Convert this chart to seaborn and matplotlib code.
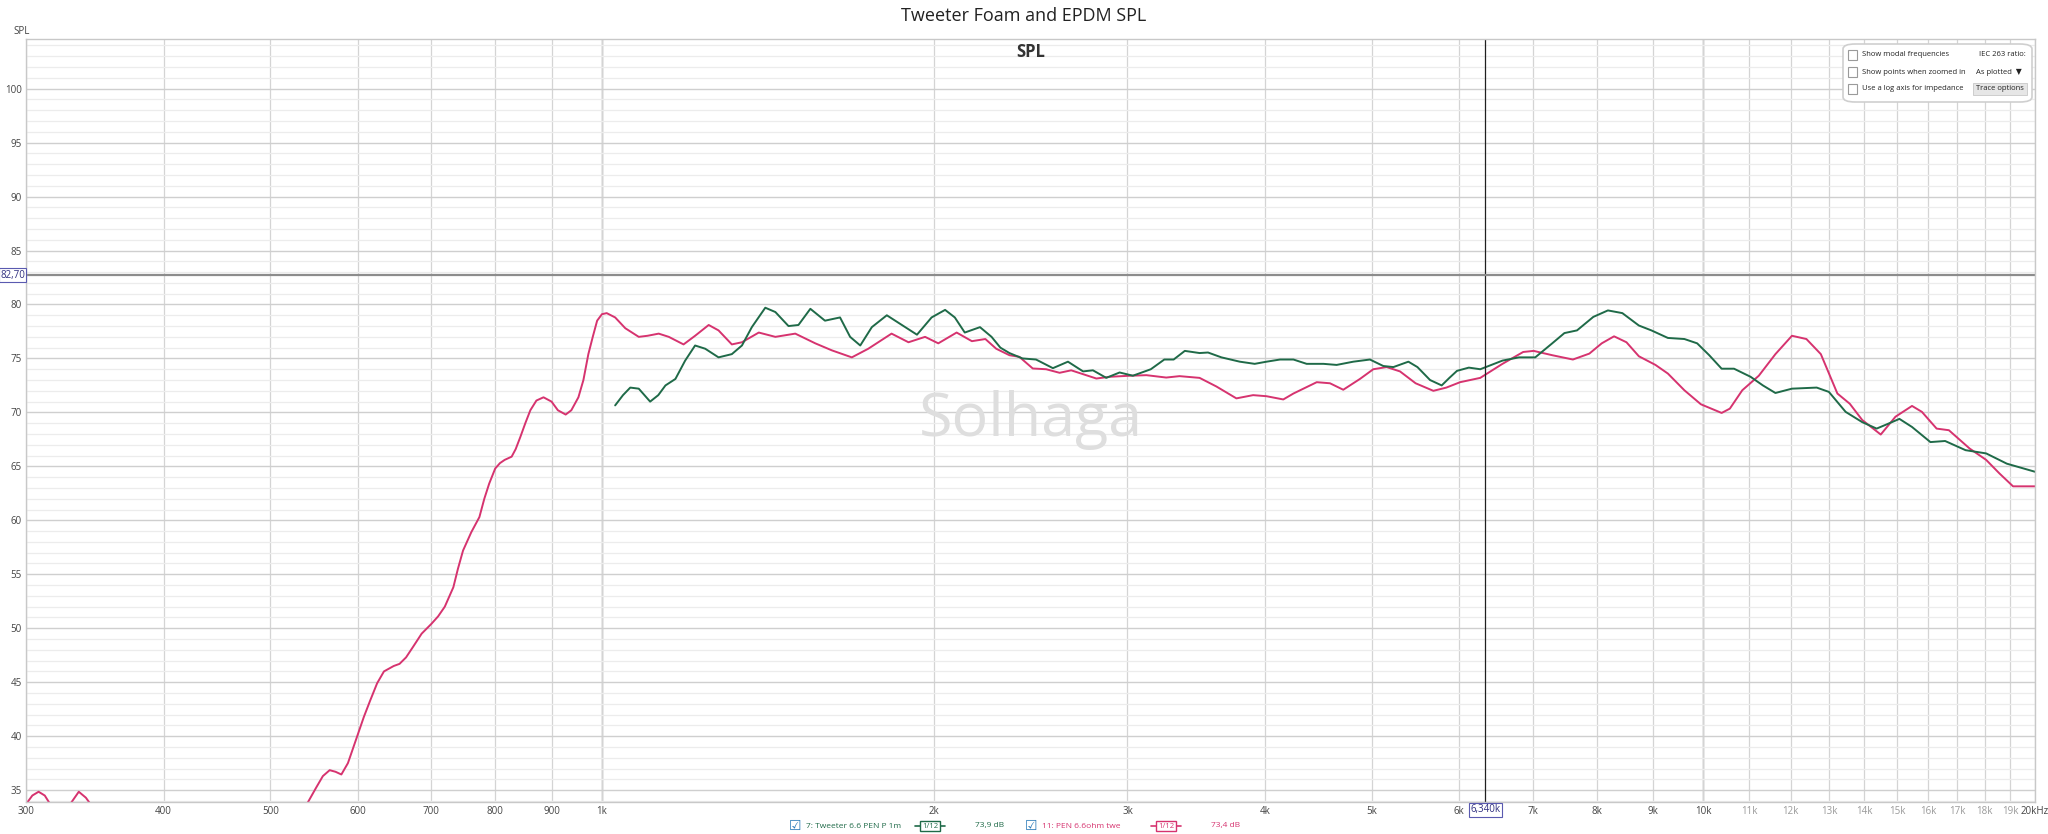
import matplotlib
matplotlib.use("Agg")
import matplotlib.pyplot as plt
import seaborn as sns
import pandas as pd
from matplotlib.patches import FancyBboxPatch, Rectangle
from matplotlib.lines import Line2D
from matplotlib.ticker import MultipleLocator, NullLocator

# Trace 11: PEN 6.6ohm twe (pink)
pink_freq = [300, 304, 308, 312, 316, 322, 329, 335, 340, 345, 360, 400, 480, 530, 541, 550,
             558, 566, 573, 580, 588, 600, 608, 616, 625, 634, 647, 655, 664, 674, 686, 700,
             710, 720, 733, 740, 748, 761, 774, 782, 790, 800, 808, 816, 828, 835, 843, 852,
             861, 872, 885, 900, 912, 927, 938, 952, 962, 972, 981, 990, 1000, 1010, 1028,
             1050, 1080, 1100, 1126, 1150, 1186, 1215, 1250, 1276, 1312, 1340, 1388, 1437,
             1498, 1562, 1617, 1686, 1745, 1832, 1898, 1965, 2020, 2099, 2167, 2229, 2280,
             2344, 2393, 2461, 2531, 2603, 2667, 2734, 2811, 2890, 3003, 3121, 3253, 3345,
             3488, 3613, 3767, 3901, 4012, 4155, 4244, 4456, 4581, 4710, 4877, 5015, 5157,
             5303, 5479, 5686, 5843, 6013, 6272, 6570, 6861, 7013, 7290, 7612, 7879, 8085,
             8296, 8514, 8738, 9046, 9284, 9610, 9948, 10388, 10568, 10846, 11228, 11624,
             12033, 12402, 12782, 13232, 13580, 13936, 14487, 14940, 15466, 15789, 16282,
             16705, 17447, 18059, 18565, 19103, 20000]
pink_spl = [33.7, 34.5, 34.85, 34.5, 33.6, 32.8, 33.7, 34.85, 34.3, 33.4, 31.0, 28.0, 30.0, 32.5,
            33.9, 35.2, 36.3, 36.85, 36.7, 36.45, 37.5, 40.1, 41.8, 43.3, 44.9, 46.0, 46.5,
            46.7, 47.3, 48.3, 49.5, 50.4, 51.1, 52.0, 53.8, 55.5, 57.2, 58.9, 60.3, 62.0,
            63.4, 64.8, 65.3, 65.6, 65.9, 66.6, 67.7, 69.0, 70.2, 71.1, 71.4, 71.0, 70.2,
            69.8, 70.2, 71.4, 73.0, 75.4, 77.0, 78.5, 79.1, 79.2, 78.8, 77.8, 77.0, 77.1,
            77.3, 77.0, 76.3, 77.1, 78.1, 77.6, 76.3, 76.5, 77.4, 77.0, 77.3, 76.4, 75.75,
            75.1, 75.9, 77.3, 76.5, 77.0, 76.4, 77.4, 76.6, 76.8, 75.9, 75.3, 75.15, 74.07,
            74.0, 73.67, 73.9, 73.54, 73.14, 73.3, 73.39, 73.45, 73.23, 73.36, 73.2, 72.4,
            71.3, 71.6, 71.5, 71.2, 71.75, 72.8, 72.7, 72.1, 73.1, 74.0, 74.2, 73.8, 72.7,
            72.0, 72.3, 72.8, 73.2, 74.5, 75.6, 75.7, 75.3, 74.9, 75.45, 76.4, 77.05, 76.5,
            75.2, 74.4, 73.6, 72.05, 70.75, 69.95, 70.35, 72.05, 73.4, 75.4, 77.1, 76.8,
            75.4, 71.75, 70.8, 69.3, 67.95, 69.6, 70.6, 70.05, 68.5, 68.35, 66.65, 65.6,
            64.35, 63.15, 63.15]

# Trace 7: Tweeter 6.6 PEN P 1m (green)
green_freq = [1028, 1045, 1061, 1080, 1106, 1125, 1142, 1166, 1190, 1215, 1241, 1276, 1312,
              1340, 1368, 1407, 1437, 1477, 1508, 1546, 1594, 1645, 1680, 1716, 1758, 1814,
              1872, 1932, 1992, 2049, 2091, 2135, 2204, 2258, 2300, 2344, 2409, 2478, 2567,
              2649, 2734, 2791, 2870, 2951, 3034, 3150, 3240, 3304, 3382, 3488, 3550, 3651,
              3794, 3914, 4012, 4127, 4244, 4363, 4519, 4645, 4810, 4980, 5121, 5230, 5397,
              5500, 5647, 5786, 5880, 5974, 6124, 6272, 6570, 6800, 7036, 7290, 7478, 7678,
              7944, 8190, 8441, 8738, 8969, 9284, 9610, 9870, 10122, 10388, 10660, 11036,
              11324, 11624, 12033, 12672, 12999, 13462, 13936, 14363, 14675, 15064, 15466,
              16072, 16574, 17298, 18059, 18856, 20000]
green_spl = [70.65, 71.6, 72.3, 72.2, 71.0, 71.6, 72.5, 73.1, 74.8, 76.2, 75.9, 75.1, 75.4,
             76.2, 77.9, 79.7, 79.3, 78.0, 78.1, 79.6, 78.5, 78.8, 77.0, 76.2, 77.9, 79.0,
             78.1, 77.2, 78.8, 79.5, 78.8, 77.4, 77.9, 77.0, 76.0, 75.5, 75.0, 74.9, 74.1,
             74.7, 73.8, 73.9, 73.2, 73.7, 73.4, 74.0, 74.9, 74.9, 75.7, 75.5, 75.55, 75.1,
             74.7, 74.5, 74.7, 74.9, 74.9, 74.5, 74.5, 74.4, 74.7, 74.9, 74.3, 74.2, 74.7,
             74.2, 73.0, 72.5, 73.2, 73.85, 74.15, 74.0, 74.8, 75.1, 75.1, 76.4, 77.35, 77.6,
             78.85, 79.45, 79.2, 78.05, 77.6, 76.9, 76.8, 76.4, 75.3, 74.05, 74.05, 73.3,
             72.5, 71.8, 72.2, 72.3, 71.9, 70.05, 69.1, 68.5, 68.9, 69.4, 68.65, 67.25,
             67.35, 66.5, 66.2, 65.25, 64.5]

x_ticks = [300, 400, 500, 600, 700, 800, 900, 1000, 2000, 3000, 4000, 5000, 6000, 7000,
           8000, 9000, 10000, 11000, 12000, 13000, 14000, 15000, 16000, 17000, 18000,
           19000, 20000]
x_labels = ["300", "400", "500", "600", "700", "800", "900", "1k", "2k", "3k", "4k", "5k",
            "6k", "7k", "8k", "9k", "10k", "11k", "12k", "13k", "14k", "15k", "16k", "17k",
            "18k", "19k", "20kHz"]
y_ticks = list(range(35, 101, 5))

cursor_freq = 6340
cursor_spl = 82.70

green = "#1f6a48"
pink = "#d6336f"

sns.set_style("white")
plt.rcParams["font.family"] = ["Open Sans", "DejaVu Sans"]

fig = plt.figure(figsize=(20.48, 8.34), dpi=100)
ax = fig.add_axes([26 / 2048, 1 - 802 / 834, (2035 - 26) / 2048, (802 - 39) / 834])

df_pink = pd.DataFrame({"freq": pink_freq, "spl": pink_spl})
df_green = pd.DataFrame({"freq": green_freq, "spl": green_spl})

ax.set_xscale("log")
ax.set_xlim(300, 20000)
ax.set_ylim(33.9, 104.6)

# grid
ax.yaxis.set_major_locator(MultipleLocator(5))
ax.yaxis.set_minor_locator(MultipleLocator(1))
ax.set_yticks(y_ticks)
ax.set_xticks(x_ticks)
ax.set_xticklabels(x_labels)
ax.xaxis.set_minor_locator(NullLocator())
ax.grid(which="major", axis="y", color="#cfcfcf", lw=1.0)
ax.grid(which="minor", axis="y", color="#ececec", lw=0.9)
ax.grid(which="major", axis="x", color="#d4d4d4", lw=0.9)
ax.set_axisbelow(True)
for f in [1000, 10000]:
    ax.axvline(f, color="#a0a0a0", lw=1.0, zorder=0.5)

ax.tick_params(axis="both", length=0, labelsize=7, colors="#444444", pad=3)
for lab in ax.get_xticklabels():
    if lab.get_text() in ["11k", "12k", "13k", "14k", "15k", "16k", "17k", "18k", "19k"]:
        lab.set_color("#9a9a9a")
for s in ax.spines.values():
    s.set_color("#c8c8c8")
    s.set_linewidth(1.0)

# watermark and inner title
ax.text(0.5, 0.5, "Solhaga", transform=ax.transAxes, ha="center", va="center",
        fontsize=44, color="#dedede", zorder=0.6)
ax.text(0.5, 0.983, "SPL", transform=ax.transAxes, ha="center", va="center",
        fontsize=12, fontweight="bold", color="#333333")

sns.lineplot(data=df_pink, x="freq", y="spl", ax=ax, color=pink, lw=1.4,
             sort=False, estimator=None)
sns.lineplot(data=df_green, x="freq", y="spl", ax=ax, color=green, lw=1.4,
             sort=False, estimator=None)
ax.set_xlabel("")
ax.set_ylabel("")

# cursors
ax.axvline(cursor_freq, color="#202020", lw=0.9)
ax.axhline(cursor_spl, color="#8c8c8c", lw=1.6)
ax.text(-0.0005, cursor_spl, "82,70", transform=ax.get_yaxis_transform(), ha="right",
        va="center", fontsize=7, color="#303080",
        bbox=dict(boxstyle="square,pad=0.15", fc="white", ec="#5a5ab0", lw=0.8))
ax.text(cursor_freq, -0.003, "6,340k", transform=ax.get_xaxis_transform(), ha="center",
        va="top", fontsize=7, color="#303080",
        bbox=dict(boxstyle="square,pad=0.15", fc="white", ec="#5a5ab0", lw=0.8))

# figure texts
fig.text(0.5, 1 - 16 / 834, "Tweeter Foam and EPDM SPL", ha="center", va="center",
         fontsize=13, color="#222222")
fig.text(13 / 2048, 1 - 31 / 834, "SPL", ha="left", va="center", fontsize=7, color="#444444")

# options box
fig.patches.append(FancyBboxPatch((1843 / 2048, 1 - 102 / 834), 189 / 2048, 58 / 834,
                                  boxstyle="round,pad=0,rounding_size=0.006",
                                  transform=fig.transFigure, fc="white", ec="#cfcfcf", lw=1.2))
opts = ["Show modal frequencies", "Show points when zoomed in", "Use a log axis for impedance"]
for i, t in enumerate(opts):
    yy = 1 - (55 + 17 * i) / 834
    fig.patches.append(Rectangle((1848 / 2048, yy - 4.5 / 834), 9 / 2048, 9 / 834,
                                 transform=fig.transFigure, fc="white", ec="#9a9a9a", lw=0.8))
    fig.text(1862 / 2048, yy, t, ha="left", va="center", fontsize=5.5, color="#222222")
fig.text(2026 / 2048, 1 - 55 / 834, "IEC 263 ratio:", ha="right", va="center", fontsize=5.5,
         color="#222222")
fig.text(1976 / 2048, 1 - 72 / 834, "As plotted  \u25BC", ha="left", va="center",
         fontsize=5.5, color="#222222", family=["Open Sans", "DejaVu Sans"])
fig.text(1976 / 2048, 1 - 89 / 834, "Trace options", ha="left", va="center", fontsize=5.5,
         color="#222222", bbox=dict(boxstyle="square,pad=0.35", fc="#e6e6e6", ec="#c8c8c8", lw=0.6))

# legend row
ly = 1 - 826 / 834
for x0, name, col, val in [(795, "7: Tweeter 6.6 PEN P 1m", green, "73,9 dB"),
                           (1031, "11: PEN 6.6ohm twe", pink, "73,4 dB")]:
    fig.text(x0 / 2048, ly, "\u2611", ha="center", va="center", fontsize=10,
             color="#2a7ab8", family="DejaVu Sans")
    fig.text((x0 + 11) / 2048, ly, name, ha="left", va="center", fontsize=6,
             color=col)
    sx = x0 + 120
    fig.lines.append(Line2D([sx / 2048, (sx + 30) / 2048], [ly, ly], transform=fig.transFigure,
                            color=col, lw=1.2))
    fig.text((sx + 15) / 2048, ly, "1/12", ha="center", va="center", fontsize=5.5, color=col,
             bbox=dict(boxstyle="square,pad=0.2", fc="white", ec=col, lw=1.0))
    fig.text((x0 + 180) / 2048, ly, val, ha="left", va="center", fontsize=6, color=col)

fig.savefig("out.png", dpi=100)
